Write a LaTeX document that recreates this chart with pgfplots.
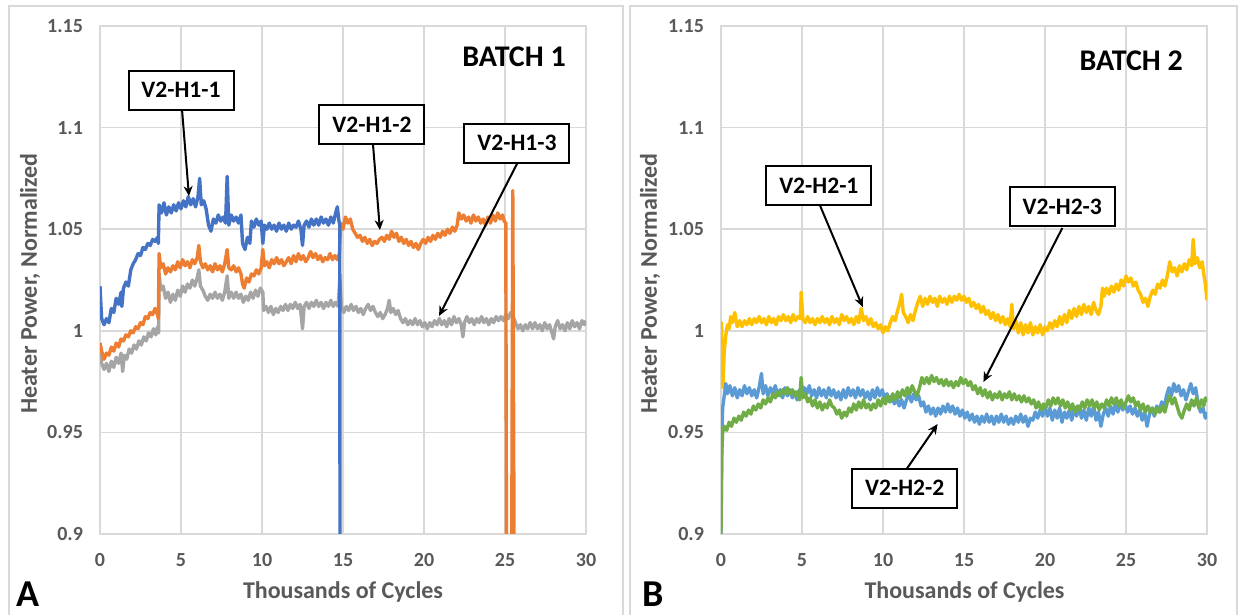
\documentclass[border=0pt]{standalone}
\usepackage{fontspec}
\setmainfont{Carlito}
\usepackage{pgfplots}
\pgfplotsset{compat=1.18}
\usetikzlibrary{arrows.meta}
\definecolor{cBlue}{HTML}{4472C4}
\definecolor{cOrange}{HTML}{ED7D31}
\definecolor{cGray}{HTML}{A5A5A5}
\definecolor{cYellow}{HTML}{FFC000}
\definecolor{cLBlue}{HTML}{5B9BD5}
\definecolor{cGreen}{HTML}{70AD47}
\definecolor{gridc}{HTML}{D9D9D9}
\definecolor{txtc}{HTML}{595959}
\pgfplotsset{
  panel/.style={
    anchor=south west, scale only axis,
    width=243pt, height=254pt,
    xmin=0, xmax=30, ymin=0.9, ymax=1.15,
    xtick={0,5,10,15,20,25,30},
    xticklabels={0,5,10,15,20,25,30},
    ytick={0.9,0.95,1,1.05,1.1,1.15},
    yticklabels={0.9,0.95,1,1.05,1.1,1.15},
    grid=major,
    grid style={draw=gridc, line width=0.75pt},
    axis line style={draw=gridc, line width=0.75pt},
    major tick length=0pt,
    tick style={draw=none},
    ticklabel style={font=\bfseries\fontsize{10}{12}\selectfont, text=txtc},
    yticklabel style={xshift=-5pt},
    xticklabel style={yshift=-6pt},
    every axis plot/.append style={line width=1.7pt, line join=round, mark=none},
  },
}
\tikzset{
  lab/.style={draw=black, line width=1pt, fill=white, minimum width=52.5pt, minimum height=19.5pt, inner sep=0pt, font=\bfseries\fontsize{11.8}{14}\selectfont},
  arr/.style={draw=black, line width=1pt, -{Stealth[length=5pt,width=4.5pt]}},
}
\begin{document}
\begin{tikzpicture}[x=1pt,y=1pt]
\path[use as bounding box, fill=white] (0,0) rectangle (619.5,307.5);
\draw[gridc, line width=0.75pt] (4.5,0) -- (4.5,304.5) -- (311.5,304.5) -- (311.5,0);
\draw[gridc, line width=0.75pt] (315,0) -- (315,304.5) -- (618.5,304.5) -- (618.5,0);

% ---------------- Panel A ----------------
\begin{axis}[panel, at={(50pt,40.5pt)}]
\addplot[cGray] table {
0.00 0.990
0.10 0.984
0.25 0.981
0.40 0.984
0.55 0.980
0.70 0.985
0.85 0.982
1.00 0.987
1.15 0.984
1.30 0.989
1.40 0.980
1.50 0.988
1.65 0.986
1.80 0.991
1.95 0.989
2.10 0.993
2.25 0.991
2.40 0.995
2.55 0.993
2.70 0.997
2.85 0.995
3.00 0.999
3.15 0.997
3.30 1.001
3.45 0.998
3.55 1.002
3.62 0.999
3.65 1.028
3.75 1.020
3.90 1.022
4.05 1.016
4.20 1.019
4.35 1.014
4.50 1.018
4.65 1.015
4.80 1.020
4.95 1.017
5.10 1.022
5.25 1.019
5.40 1.023
5.55 1.021
5.70 1.025
5.85 1.022
6.00 1.026
6.10 1.030
6.20 1.022
6.35 1.020
6.50 1.017
6.65 1.015
6.80 1.018
6.95 1.016
7.10 1.019
7.25 1.016
7.40 1.018
7.55 1.015
7.70 1.019
7.85 1.027
7.95 1.016
8.10 1.019
8.25 1.016
8.40 1.019
8.55 1.016
8.70 1.018
8.85 1.014
9.00 1.017
9.15 1.015
9.30 1.019
9.45 1.016
9.60 1.020
9.75 1.017
9.90 1.021
10.05 1.019
10.10 1.010
10.25 1.012
10.40 1.009
10.55 1.012
10.70 1.008
10.85 1.011
11.00 1.009
11.15 1.012
11.30 1.010
11.45 1.013
11.60 1.010
11.75 1.013
11.90 1.011
12.05 1.014
12.20 1.011
12.35 1.013
12.50 1.001
12.60 1.012
12.75 1.014
12.90 1.011
13.05 1.014
13.20 1.012
13.35 1.015
13.50 1.012
13.65 1.014
13.80 1.011
13.95 1.014
14.10 1.012
14.25 1.015
14.40 1.012
14.55 1.014
14.70 1.012
14.80 1.025
14.90 1.012
15.05 1.009
15.20 1.012
15.35 1.010
15.50 1.013
15.65 1.010
15.80 1.012
15.95 1.009
16.10 1.011
16.25 1.008
16.40 1.011
16.55 1.013
16.70 1.010
16.85 1.012
17.00 1.009
17.15 1.007
17.30 1.009
17.45 1.006
17.60 1.008
17.75 1.011
17.85 1.015
17.95 1.009
18.10 1.011
18.25 1.008
18.40 1.010
18.55 1.006
18.70 1.004
18.85 1.006
19.00 1.003
19.15 1.005
19.30 1.003
19.45 1.006
19.60 1.003
19.75 1.005
19.90 1.002
20.05 1.004
20.20 1.001
20.35 1.004
20.50 1.002
20.65 1.005
20.80 1.003
20.95 1.006
21.10 1.003
21.25 1.005
21.40 1.002
21.55 1.006
21.70 1.003
21.85 1.007
22.00 1.004
22.15 1.006
22.30 1.003
22.40 0.997
22.50 1.004
22.65 1.007
22.80 1.004
22.95 1.006
23.10 1.003
23.25 1.006
23.40 1.004
23.55 1.007
23.70 1.004
23.85 1.006
24.00 1.003
24.15 1.006
24.30 1.004
24.45 1.007
24.60 1.005
24.75 1.007
24.90 1.005
25.05 1.008
25.20 1.006
25.35 1.009
25.50 1.007
25.65 1.004
25.80 1.001
25.95 1.003
26.10 1.000
26.25 1.003
26.40 1.001
26.55 1.004
26.70 1.001
26.85 1.004
27.00 1.001
27.15 1.003
27.30 1.000
27.45 1.004
27.60 1.001
27.75 1.003
27.90 0.999
28.00 0.996
28.10 1.002
28.25 1.005
28.40 1.001
28.55 1.003
28.70 1.000
28.85 1.004
29.00 1.001
29.15 1.005
29.30 1.002
29.45 1.004
29.60 1.001
29.75 1.005
29.90 1.003
30.00 1.005
};
\addplot[cOrange] table {
0.00 0.994
0.10 0.990
0.25 0.986
0.40 0.989
0.55 0.988
0.70 0.992
0.85 0.990
1.00 0.994
1.15 0.992
1.30 0.996
1.45 0.995
1.60 0.998
1.75 0.997
1.90 1.000
2.05 0.999
2.20 1.002
2.35 1.001
2.50 1.004
2.65 1.003
2.80 1.007
2.95 1.006
3.10 1.009
3.25 1.008
3.40 1.011
3.55 1.008
3.60 1.006
3.65 1.038
3.75 1.031
3.90 1.033
4.05 1.028
4.20 1.031
4.35 1.029
4.50 1.032
4.65 1.030
4.80 1.034
4.95 1.031
5.10 1.035
5.25 1.032
5.40 1.034
5.55 1.031
5.70 1.035
5.85 1.033
6.00 1.036
6.10 1.042
6.20 1.034
6.35 1.031
6.50 1.033
6.65 1.030
6.80 1.032
6.95 1.029
7.10 1.033
7.25 1.030
7.40 1.032
7.55 1.029
7.70 1.033
7.85 1.040
7.95 1.031
8.10 1.030
8.25 1.032
8.40 1.029
8.55 1.031
8.70 1.028
8.80 1.023
8.90 1.021
9.05 1.026
9.20 1.024
9.35 1.028
9.50 1.027
9.65 1.030
9.80 1.028
9.95 1.031
10.05 1.040
10.15 1.032
10.30 1.034
10.45 1.031
10.60 1.035
10.75 1.033
10.90 1.036
11.05 1.033
11.20 1.035
11.35 1.032
11.50 1.034
11.65 1.036
11.80 1.033
11.95 1.037
12.10 1.034
12.25 1.038
12.40 1.035
12.55 1.037
12.70 1.034
12.85 1.036
13.00 1.039
13.15 1.036
13.30 1.038
13.45 1.035
13.60 1.037
13.75 1.034
13.90 1.036
14.05 1.035
14.20 1.038
14.35 1.035
14.50 1.037
14.65 1.035
14.78 1.038
14.85 1.053
15.00 1.050
15.15 1.056
15.30 1.053
15.45 1.055
15.60 1.050
15.75 1.048
15.90 1.046
16.05 1.047
16.20 1.044
16.35 1.046
16.50 1.043
16.65 1.045
16.80 1.042
16.95 1.044
17.10 1.043
17.25 1.045
17.40 1.046
17.55 1.044
17.70 1.047
17.85 1.045
18.00 1.049
18.15 1.046
18.30 1.048
18.45 1.044
18.60 1.046
18.75 1.043
18.90 1.045
19.05 1.042
19.20 1.044
19.35 1.041
19.50 1.043
19.65 1.040
19.80 1.043
19.95 1.045
20.10 1.043
20.25 1.046
20.40 1.044
20.55 1.047
20.70 1.045
20.85 1.048
21.00 1.046
21.15 1.049
21.30 1.047
21.45 1.050
21.60 1.048
21.75 1.051
21.90 1.049
22.05 1.052
22.15 1.058
22.30 1.055
22.45 1.057
22.60 1.054
22.75 1.056
22.90 1.053
23.05 1.057
23.20 1.054
23.35 1.056
23.50 1.053
23.65 1.055
23.80 1.052
23.95 1.056
24.10 1.053
24.25 1.057
24.40 1.054
24.55 1.058
24.70 1.055
24.85 1.057
24.95 1.054
25.05 1.053
25.10 0.850
25.40 0.850
25.48 1.069
25.58 0.850
};
\addplot[cBlue] table {
0.00 1.022
0.10 1.006
0.25 1.003
0.40 1.006
0.55 1.004
0.70 1.011
0.85 1.009
1.00 1.016
1.15 1.013
1.30 1.019
1.35 1.012
1.45 1.021
1.60 1.024
1.75 1.022
1.90 1.030
2.05 1.033
2.20 1.035
2.35 1.038
2.50 1.037
2.65 1.041
2.80 1.040
2.95 1.043
3.10 1.042
3.25 1.045
3.40 1.044
3.55 1.046
3.60 1.043
3.65 1.062
3.80 1.058
3.95 1.063
4.10 1.057
4.25 1.061
4.40 1.058
4.55 1.062
4.70 1.059
4.85 1.063
5.00 1.060
5.15 1.064
5.30 1.061
5.45 1.066
5.60 1.062
5.75 1.065
5.90 1.061
6.05 1.066
6.15 1.075
6.25 1.062
6.40 1.064
6.55 1.060
6.70 1.052
6.85 1.049
7.00 1.055
7.15 1.053
7.30 1.057
7.45 1.054
7.60 1.056
7.75 1.053
7.85 1.076
7.95 1.052
8.10 1.057
8.25 1.054
8.40 1.056
8.55 1.053
8.70 1.057
8.80 1.043
8.95 1.040
9.10 1.046
9.25 1.043
9.35 1.054
9.50 1.051
9.65 1.055
9.80 1.052
9.95 1.054
10.05 1.043
10.15 1.052
10.30 1.050
10.45 1.053
10.60 1.050
10.75 1.052
10.90 1.049
11.05 1.053
11.20 1.050
11.35 1.052
11.50 1.049
11.65 1.053
11.80 1.050
11.95 1.052
12.10 1.051
12.25 1.054
12.40 1.050
12.50 1.042
12.60 1.052
12.75 1.054
12.90 1.051
13.05 1.055
13.20 1.052
13.35 1.055
13.50 1.052
13.65 1.056
13.80 1.053
13.95 1.055
14.10 1.052
14.25 1.056
14.40 1.053
14.55 1.058
14.65 1.061
14.75 1.054
14.80 1.052
14.82 0.850
};
\node[font=\bfseries\fontsize{15}{18}\selectfont] at (axis cs:25.56,1.1347) {BATCH 1};
\draw[arr] (axis cs:5.06,1.1092) -- (axis cs:5.49,1.0663);
\draw[arr] (axis cs:16.85,1.0919) -- (axis cs:17.28,1.0496);
\draw[arr] (axis cs:25.8,1.0831) -- (axis cs:20.93,1.0073);
\node[lab] at (axis cs:5.0,1.1185) {V2-H1-1};
\node[lab] at (axis cs:16.79,1.1013) {V2-H1-2};
\node[lab] at (axis cs:25.74,1.0924) {V2-H1-3};
\end{axis}

% ---------------- Panel B ----------------
\begin{axis}[panel, at={(360.5pt,40.5pt)}]
\addplot[cYellow] table {
0.00 0.996
0.03 1.004
0.08 0.975
0.12 0.972
0.20 0.990
0.30 0.998
0.40 1.003
0.50 1.001
0.60 1.007
0.70 1.004
0.85 1.009
1.00 1.002
1.15 1.005
1.30 1.002
1.45 1.005
1.60 1.003
1.75 1.006
1.90 1.003
2.05 1.006
2.20 1.004
2.35 1.007
2.50 1.004
2.65 1.006
2.80 1.003
2.95 1.007
3.10 1.004
3.25 1.006
3.40 1.003
3.55 1.007
3.70 1.005
3.85 1.008
4.00 1.005
4.15 1.007
4.30 1.004
4.45 1.008
4.60 1.005
4.75 1.007
4.90 1.006
4.95 1.019
5.05 1.006
5.20 1.004
5.35 1.007
5.50 1.004
5.65 1.006
5.80 1.003
5.95 1.006
6.10 1.004
6.25 1.007
6.40 1.004
6.55 1.006
6.70 1.003
6.85 1.007
7.00 1.004
7.15 1.006
7.30 1.003
7.45 1.008
7.60 1.005
7.75 1.007
7.90 1.004
8.05 1.006
8.20 1.003
8.35 1.007
8.50 1.004
8.65 1.011
8.80 1.005
8.95 1.007
9.10 1.003
9.25 1.006
9.40 1.002
9.55 1.004
9.70 1.001
9.85 1.003
10.00 0.999
10.15 1.002
10.30 1.000
10.45 1.004
10.60 1.007
10.75 1.005
10.90 1.010
11.05 1.014
11.15 1.018
11.25 1.009
11.40 1.007
11.55 1.004
11.70 1.008
11.85 1.005
12.00 1.010
12.15 1.014
12.30 1.017
12.45 1.012
12.60 1.016
12.75 1.013
12.90 1.017
13.05 1.014
13.20 1.016
13.35 1.012
13.50 1.017
13.65 1.014
13.80 1.016
13.95 1.013
14.10 1.017
14.25 1.014
14.40 1.017
14.55 1.015
14.70 1.018
14.85 1.015
15.00 1.017
15.15 1.014
15.30 1.016
15.45 1.012
15.60 1.014
15.75 1.011
15.90 1.013
16.05 1.009
16.20 1.012
16.35 1.008
16.50 1.010
16.65 1.006
16.80 1.009
16.95 1.005
17.10 1.008
17.25 1.004
17.40 1.007
17.55 1.003
17.70 1.006
17.85 1.002
17.95 1.013
18.05 1.001
18.20 1.005
18.35 0.999
18.50 1.004
18.65 0.998
18.80 1.003
18.95 0.999
19.10 1.004
19.25 0.998
19.40 1.002
19.55 0.999
19.70 1.003
19.85 0.998
20.00 1.002
20.15 1.000
20.30 1.004
20.45 1.001
20.60 1.005
20.75 1.002
20.90 1.007
21.05 1.003
21.20 1.008
21.35 1.004
21.50 1.010
21.65 1.006
21.80 1.011
21.95 1.007
22.10 1.012
22.25 1.008
22.40 1.013
22.55 1.009
22.70 1.012
22.85 1.008
23.00 1.014
23.15 1.010
23.30 1.008
23.45 1.012
23.55 1.021
23.65 1.017
23.80 1.021
23.95 1.018
24.10 1.022
24.25 1.019
24.40 1.023
24.55 1.020
24.70 1.025
24.85 1.022
25.00 1.027
25.15 1.024
25.30 1.026
25.45 1.022
25.60 1.024
25.75 1.020
25.90 1.018
26.05 1.014
26.20 1.016
26.35 1.012
26.50 1.017
26.65 1.020
26.80 1.018
26.95 1.023
27.10 1.021
27.25 1.025
27.40 1.022
27.55 1.027
27.70 1.034
27.85 1.029
28.00 1.031
28.15 1.027
28.30 1.032
28.45 1.029
28.60 1.033
28.75 1.030
28.90 1.035
29.05 1.032
29.15 1.045
29.25 1.033
29.40 1.036
29.55 1.031
29.70 1.034
29.80 1.028
29.90 1.023
30.00 1.015
};
\addplot[cLBlue] table {
0.00 0.900
0.05 0.945
0.10 0.962
0.20 0.968
0.30 0.974
0.40 0.969
0.55 0.973
0.70 0.968
0.85 0.972
1.00 0.967
1.15 0.971
1.30 0.968
1.45 0.973
1.60 0.969
1.75 0.972
1.90 0.968
2.05 0.971
2.20 0.967
2.35 0.972
2.50 0.979
2.60 0.969
2.75 0.973
2.90 0.968
3.05 0.972
3.20 0.969
3.35 0.973
3.50 0.968
3.65 0.971
3.80 0.967
3.95 0.972
4.10 0.968
4.25 0.971
4.40 0.967
4.55 0.970
4.70 0.966
4.85 0.971
5.00 0.968
5.15 0.972
5.30 0.969
5.45 0.973
5.60 0.968
5.75 0.971
5.90 0.967
6.05 0.972
6.20 0.968
6.35 0.971
6.50 0.967
6.65 0.972
6.80 0.968
6.95 0.971
7.10 0.967
7.25 0.970
7.40 0.966
7.55 0.971
7.70 0.967
7.85 0.972
8.00 0.968
8.15 0.971
8.30 0.967
8.45 0.972
8.60 0.968
8.75 0.971
8.90 0.967
9.05 0.970
9.20 0.966
9.35 0.971
9.50 0.967
9.65 0.972
9.80 0.968
9.95 0.971
10.10 0.967
10.25 0.969
10.40 0.965
10.55 0.968
10.70 0.964
10.85 0.967
11.00 0.963
11.15 0.966
11.30 0.962
11.45 0.966
11.60 0.969
11.75 0.965
11.90 0.969
12.05 0.966
12.20 0.968
12.35 0.963
12.50 0.965
12.65 0.960
12.80 0.963
12.95 0.959
13.10 0.962
13.25 0.958
13.40 0.962
13.55 0.959
13.70 0.963
13.85 0.960
14.00 0.964
14.15 0.960
14.30 0.963
14.45 0.959
14.60 0.962
14.75 0.958
14.90 0.961
15.05 0.957
15.20 0.960
15.35 0.956
15.50 0.959
15.65 0.955
15.80 0.958
15.95 0.954
16.10 0.958
16.25 0.955
16.40 0.959
16.55 0.955
16.70 0.958
16.85 0.954
17.00 0.958
17.15 0.955
17.30 0.959
17.45 0.955
17.60 0.958
17.75 0.954
17.90 0.957
18.05 0.954
18.20 0.958
18.35 0.955
18.50 0.959
18.65 0.955
18.80 0.958
18.95 0.953
19.10 0.957
19.25 0.956
19.40 0.960
19.55 0.957
19.70 0.961
19.85 0.958
20.00 0.962
20.15 0.958
20.30 0.962
20.45 0.956
20.60 0.961
20.75 0.957
20.90 0.962
21.05 0.955
21.20 0.960
21.35 0.957
21.50 0.961
21.65 0.956
21.80 0.962
21.95 0.958
22.10 0.963
22.25 0.957
22.40 0.961
22.55 0.956
22.70 0.962
22.85 0.958
23.00 0.963
23.15 0.956
23.30 0.960
23.45 0.953
23.60 0.959
23.75 0.962
23.90 0.958
24.05 0.963
24.20 0.959
24.35 0.964
24.50 0.960
24.65 0.965
24.80 0.961
24.95 0.964
25.10 0.960
25.25 0.963
25.40 0.959
25.55 0.962
25.70 0.958
25.85 0.961
26.00 0.956
26.15 0.960
26.30 0.953
26.45 0.959
26.60 0.962
26.75 0.958
26.90 0.963
27.05 0.960
27.20 0.965
27.35 0.962
27.50 0.968
27.65 0.972
27.80 0.968
27.95 0.974
28.10 0.970
28.25 0.973
28.40 0.968
28.55 0.971
28.70 0.966
28.85 0.970
29.00 0.974
29.15 0.969
29.30 0.972
29.45 0.964
29.60 0.960
29.75 0.962
29.90 0.957
30.00 0.960
};
\addplot[cGreen] table {
0.00 0.900
0.05 0.940
0.10 0.950
0.20 0.953
0.35 0.951
0.50 0.955
0.65 0.953
0.80 0.957
0.95 0.955
1.10 0.958
1.25 0.956
1.40 0.960
1.55 0.958
1.70 0.961
1.85 0.959
2.00 0.963
2.15 0.961
2.30 0.964
2.45 0.962
2.60 0.966
2.75 0.964
2.90 0.967
3.05 0.965
3.20 0.969
3.35 0.967
3.50 0.970
3.65 0.968
3.80 0.971
3.95 0.969
4.10 0.972
4.25 0.969
4.40 0.971
4.55 0.968
4.70 0.970
4.85 0.966
4.95 0.977
5.05 0.967
5.20 0.969
5.35 0.965
5.50 0.967
5.65 0.963
5.80 0.966
5.95 0.962
6.10 0.965
6.25 0.961
6.40 0.964
6.55 0.962
6.70 0.966
6.85 0.963
7.00 0.962
7.15 0.959
7.30 0.961
7.45 0.957
7.60 0.960
7.75 0.958
7.90 0.962
8.05 0.960
8.20 0.964
8.35 0.961
8.50 0.965
8.65 0.962
8.80 0.966
8.95 0.962
9.10 0.964
9.25 0.961
9.40 0.964
9.55 0.962
9.70 0.966
9.85 0.963
10.00 0.967
10.15 0.964
10.30 0.968
10.45 0.965
10.60 0.969
10.75 0.966
10.90 0.970
11.05 0.967
11.20 0.971
11.35 0.968
11.50 0.972
11.65 0.969
11.80 0.973
11.95 0.970
12.10 0.968
12.25 0.972
12.40 0.977
12.55 0.974
12.70 0.977
12.85 0.974
13.00 0.978
13.15 0.975
13.30 0.977
13.45 0.974
13.60 0.976
13.75 0.973
13.90 0.976
14.05 0.973
14.20 0.975
14.35 0.972
14.50 0.975
14.65 0.973
14.80 0.977
14.95 0.974
15.10 0.976
15.25 0.973
15.40 0.975
15.55 0.971
15.70 0.973
15.85 0.969
16.00 0.972
16.15 0.968
16.30 0.971
16.45 0.967
16.60 0.970
16.75 0.966
16.90 0.969
17.05 0.967
17.20 0.970
17.35 0.966
17.50 0.969
17.65 0.967
17.80 0.970
17.95 0.966
18.10 0.969
18.25 0.966
18.40 0.968
18.55 0.965
18.70 0.968
18.85 0.965
19.00 0.967
19.15 0.964
19.30 0.966
19.45 0.962
19.60 0.965
19.75 0.961
19.90 0.964
20.05 0.962
20.20 0.966
20.35 0.963
20.50 0.967
20.65 0.964
20.80 0.967
20.95 0.963
21.10 0.966
21.25 0.962
21.40 0.965
21.55 0.961
21.70 0.964
21.85 0.960
22.00 0.963
22.15 0.961
22.30 0.965
22.45 0.962
22.60 0.966
22.75 0.963
22.90 0.966
23.05 0.962
23.20 0.965
23.35 0.961
23.50 0.964
23.65 0.962
23.80 0.966
23.95 0.963
24.10 0.967
24.25 0.964
24.40 0.967
24.55 0.963
24.70 0.966
24.85 0.962
25.00 0.965
25.15 0.968
25.30 0.965
25.45 0.967
25.60 0.963
25.75 0.965
25.90 0.961
26.05 0.964
26.20 0.960
26.35 0.963
26.50 0.960
26.65 0.962
26.80 0.959
26.95 0.962
27.10 0.960
27.25 0.963
27.40 0.960
27.55 0.965
27.70 0.968
27.85 0.964
28.00 0.967
28.15 0.963
28.30 0.959
28.45 0.957
28.60 0.961
28.75 0.964
28.90 0.961
29.05 0.966
29.20 0.963
29.35 0.967
29.50 0.962
29.65 0.966
29.80 0.963
29.90 0.967
30.00 0.965
};
\node[font=\bfseries\fontsize{15}{18}\selectfont] at (axis cs:25.32,1.1328) {BATCH 2};
\draw[arr] (axis cs:6.1,1.0619) -- (axis cs:8.75,1.0117);
\draw[arr] (axis cs:21.07,1.0506) -- (axis cs:16.2,0.9748);
\draw[arr] (axis cs:11.46,0.932) -- (axis cs:13.37,0.9541);
\node[lab] at (axis cs:6.04,1.0713) {V2-H2-1};
\node[lab] at (axis cs:21.07,1.061) {V2-H2-3};
\node[lab] at (axis cs:11.34,0.9226) {V2-H2-2};
\end{axis}

% axis titles and panel letters
\node[font=\bfseries\fontsize{12}{14}\selectfont, text=txtc] at (171.5,11.5) {Thousands of Cycles};
\node[font=\bfseries\fontsize{12}{14}\selectfont, text=txtc] at (482.25,11.5) {Thousands of Cycles};
\node[font=\bfseries\fontsize{12}{14}\selectfont, text=txtc, rotate=90] at (15,165.75) {Heater Power, Normalized};
\node[font=\bfseries\fontsize{12}{14}\selectfont, text=txtc, rotate=90] at (325,165.75) {Heater Power, Normalized};
\node[font=\bfseries\fontsize{19}{22}\selectfont] at (14,10.5) {A};
\node[font=\bfseries\fontsize{19}{22}\selectfont] at (326.5,10.5) {B};
\end{tikzpicture}
\end{document}
